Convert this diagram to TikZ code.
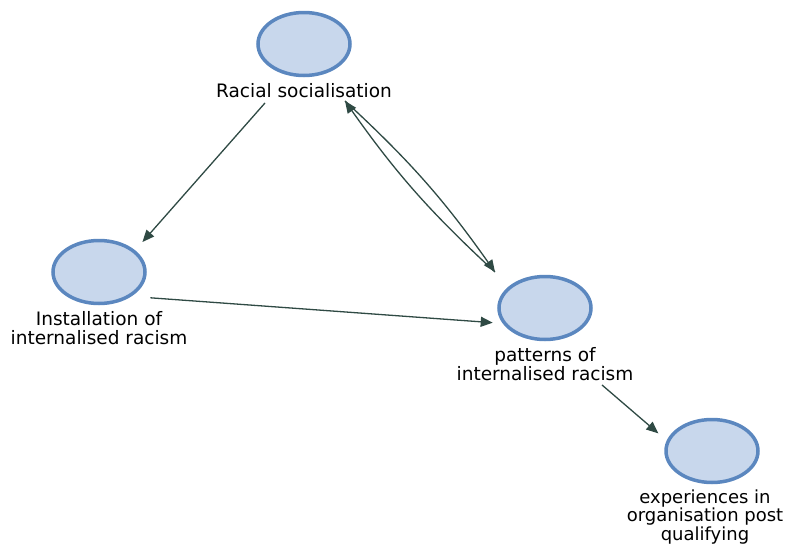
\documentclass[tikz,border=0pt]{standalone}
\usepackage{fontspec}
\usetikzlibrary{arrows.meta,positioning,shapes.geometric}
\newfontfamily\labfont{DejaVu Sans}
\definecolor{nodefill}{HTML}{C8D7EC}
\definecolor{nodeedge}{HTML}{5B87BF}
\definecolor{arrowcol}{HTML}{2F4A44}

\begin{document}
\begin{tikzpicture}[x=1pt,y=-1pt,node distance=5pt,
          v/.style={ellipse,draw=nodeedge,fill=nodefill,line width=3.5pt,
            minimum width=92pt,minimum height=63pt,inner sep=0pt},
          lab/.style={align=center,inner sep=1pt,
            font=\labfont\fontsize{18.5}{19}\selectfont},
          arr/.style={draw=arrowcol,line width=1.3pt,
            -{Triangle[length=12pt,width=10pt]}}]
        \useasboundingbox (0,0) rectangle (788,544);
        \node[v] (rs) at (304,44) {};
        \node[lab,below=of rs] (rs-l) {Racial socialisation};
        \node[v] (ins) at (99,272) {};
        \node[lab,below=of ins] (ins-l) {Installation of\\internalised racism};
        \node[v] (pat) at (545,308) {};
        \node[lab,below=of pat] (pat-l) {patterns of\\internalised racism};
        \node[v] (exp) at (712,451) {};
        \node[lab,below=4pt of exp,xshift=-7pt,font=\labfont\fontsize{18}{18.5}\selectfont] (exp-l) {experiences in\\organisation post\\qualifying};
        % ends of the two-way link
        \coordinate (rs-out) at ([xshift=41pt,yshift=-2pt]rs-l.south);
        \coordinate (pat-in) at ([xshift=-50pt,yshift=36pt]pat.center);
        \draw[arr,shorten >=11pt] ([xshift=-39pt,yshift=-4pt]rs-l.south) -- (ins.31);
        \draw[arr,shorten <=19pt,shorten >=10pt] (ins.-37) -- (pat.200);
        \draw[arr] (rs-out) to[bend left=6] (pat-in);
        \draw[arr] (pat-in) to[bend left=6] (rs-out);
        \draw[arr,shorten >=11pt] ([xshift=57pt,yshift=-3pt]pat-l.south) -- (exp.167);
      \end{tikzpicture}
\end{document}
